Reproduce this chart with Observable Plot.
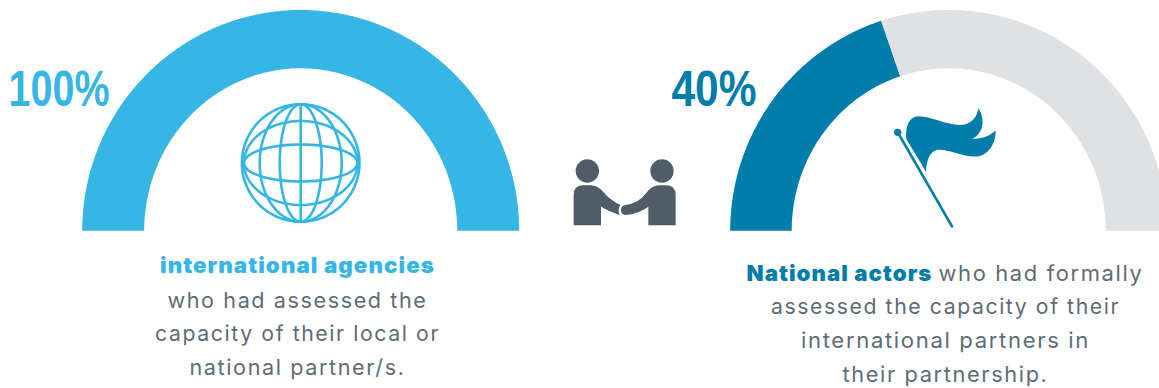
<!DOCTYPE html>
<html>
<head>
<meta charset="utf-8">
<script src="https://cdn.jsdelivr.net/npm/d3@7"></script>
<script src="https://cdn.jsdelivr.net/npm/@observablehq/plot@0.6"></script>
<style>
  html, body { margin: 0; padding: 0; background: #fff; }
  svg { display: block; }
</style>
</head>
<body>
<div id="chart"></div>
<script>
// Share of respondents on each gauge, in percent.
const gaugeLabels = ["100%", "40%"];
const agenciesShare = 100;
const actorsShare = 40;

// The gauge track is built from 20% blocks.
const actorsRemainder = [[40, 80], [80, 100]];

const lightBlue = "#35b6e4";
const darkBlue = "#007dab";
const trackGrey = "#e0e1e3";
const bodyGrey = "#5e6c78";
const iconGrey = "#505d69";

const bodyFont = "Inter, 'Open Sans', sans-serif";
const numberFont = "'Liberation Sans', sans-serif";

// Two half rings sharing a baseline.
const leftGauge = {cx: 300.2, cy: 230.3, rx: 218.5, ry: 220.8, irx: 156.5, iry: 162.5};
const rightGauge = {cx: 948.2, cy: 230.3, rx: 218.5, ry: 220.8, irx: 157, iry: 162.5};

// Closed outline of a ring segment between two percentages, 0 on the left.
function segment(g, from, to, key) {
  const angles = d3.range(from, to, 0.25).concat(to).map(p => Math.PI * (1 - p / 100));
  const outer = angles.map(a => ({key, x: g.cx + g.rx * Math.cos(a), y: g.cy - g.ry * Math.sin(a)}));
  const inner = angles.slice().reverse().map(a => ({key, x: g.cx + g.irx * Math.cos(a), y: g.cy - g.iry * Math.sin(a)}));
  return outer.concat(inner);
}

// Globe wireframe: an outline plus meridian and parallel ellipses.
const globe = {cx: 300.2, cy: 162.5, r: 58.8};
const meridians = [21, 41];
const parallels = [18.5, 42];
function ellipse(rx, ry, key) {
  return d3.range(0, 361, 3).map(d => ({
    key,
    x: globe.cx + rx * Math.cos(d * Math.PI / 180),
    y: globe.cy + ry * Math.sin(d * Math.PI / 180)
  }));
}
const globeLines = [
  ellipse(globe.r, globe.r, "outline"),
  ...meridians.map((m, i) => ellipse(m, globe.r, "m" + i)),
  ...parallels.map((p, i) => ellipse(globe.r - 2, p, "p" + i)),
  [{key: "axis", x: globe.cx, y: globe.cy - globe.r}, {key: "axis", x: globe.cx, y: globe.cy + globe.r}]
].flat();

// Sets tracking and fits a run of text to a given width.
const fitted = (tracking, width) => (index, scales, values, dimensions, context, next) => {
  const g = next(index, scales, values, dimensions, context);
  g.style.letterSpacing = tracking;
  g.querySelectorAll("text").forEach(t => {
    t.setAttribute("textLength", width);
    t.setAttribute("lengthAdjust", "spacingAndGlyphs");
  });
  return g;
};

// An icon drawn as plain paths, placed with a transform.
function icon(transform, paths) {
  return () => {
    const g = d3.create("svg:g").attr("transform", transform);
    for (const p of paths) {
      const el = g.append("path").attr("d", p.d);
      el.attr("fill", p.fill ?? "none");
      if (p.stroke) el.attr("stroke", p.stroke).attr("stroke-width", p.width).attr("stroke-linecap", "round");
    }
    return g.node();
  };
}

const flagPaths = [
  {fill: darkBlue, d: "M79,132 C76,100 84,68 112,64 C150,62 200,92 245,90 C280,86 292,62 295,39 C310,62 312,92 300,110 C292,122 285,128 277,131 C305,134 332,122 347,106 C348,135 335,172 300,183 C255,192 205,160 170,165 C150,170 140,195 138,230 Z"},
  {stroke: darkBlue, width: 8, d: "M55,115 L216,394"},
  {fill: darkBlue, d: "M42,112 a11,11 0 1,0 22,0 a11,11 0 1,0 -22,0 Z"}
];
const shakePaths = [
  {fill: iconGrey, d: "M47,63 a35,35 0 1,0 70,0 a35,35 0 1,0 -70,0 Z"},
  {fill: iconGrey, d: "M271,63 a35,35 0 1,0 70,0 a35,35 0 1,0 -70,0 Z"},
  {fill: iconGrey, d: "M41,226 V135 Q41,106 70,106 H92 Q113,106 130,126 Q150,150 181,165 Q172,178 179,195 Q150,186 123,170 V226 Z"},
  {fill: iconGrey, d: "M347,226 V135 Q347,106 318,106 H297 Q276,106 258,130 Q236,160 197,165 C178,166 178,195 197,195 Q235,192 265,170 V226 Z"}
];

const regular = {textAnchor: "middle", fontFamily: bodyFont, fontSize: 21.5, fill: bodyGrey, fontWeight: 400, tracking: "1.6px"};
const strong = {fontFamily: bodyFont, fontSize: 21.5, fontWeight: 900, tracking: "1px"};
const bigNumber = {fontFamily: numberFont, fontSize: 50, fontWeight: 700, textAnchor: "start", tracking: "0px"};

const line = (text, x, y, width, {tracking, ...opts}) =>
  Plot.text([text], {x: () => x, y: () => y, text: d => d, lineAnchor: "middle", render: fitted(tracking, width), ...opts});

const plot = Plot.plot({
  width: 1159,
  height: 388,
  margin: 0,
  x: {domain: [0, 1159], range: [0, 1159], axis: null},
  y: {domain: [0, 388], range: [0, 388], axis: null},
  marks: [
    Plot.line(segment(leftGauge, 0, agenciesShare, "a"), {x: "x", y: "y", z: "key", fill: lightBlue, stroke: "none", curve: "linear"}),
    Plot.line(segment(rightGauge, 0, actorsShare, "b"), {x: "x", y: "y", z: "key", fill: darkBlue, stroke: "none", curve: "linear"}),
    ...actorsRemainder.map(([from, to]) =>
      Plot.line(segment(rightGauge, from, to, "t" + from), {x: "x", y: "y", z: "key", fill: trackGrey, stroke: "none", curve: "linear"})
    ),
    Plot.line(globeLines, {x: "x", y: "y", z: "key", stroke: lightBlue, strokeWidth: 2.6, curve: "linear"}),
    icon("translate(560,150) scale(0.3333)", shakePaths),
    icon("translate(880,95) scale(0.3333)", flagPaths),
    line(gaugeLabels[0], 8, 89, 101, {...bigNumber, fill: lightBlue}),
    line(gaugeLabels[1], 671, 89, 85, {...bigNumber, fill: darkBlue}),
    line("international agencies", 297, 266, 275, {...strong, textAnchor: "middle", fill: lightBlue}),
    line("who had assessed the", 297, 301, 260, regular),
    line("capacity of their local or", 297, 334, 285, regular),
    line("national partner/s.", 297, 368, 216, regular),
    line("National actors", 746, 274, 186, {...strong, textAnchor: "start", fill: darkBlue}),
    line("who had formally", 1143, 274, 205, {...regular, textAnchor: "end"}),
    line("assessed the capacity of their", 945, 307, 349, regular),
    line("international partners in", 945, 341, 289, regular),
    line("their partnership.", 945, 375, 206, regular)
  ]
});
document.getElementById("chart").append(plot);
</script>
</body>
</html>
